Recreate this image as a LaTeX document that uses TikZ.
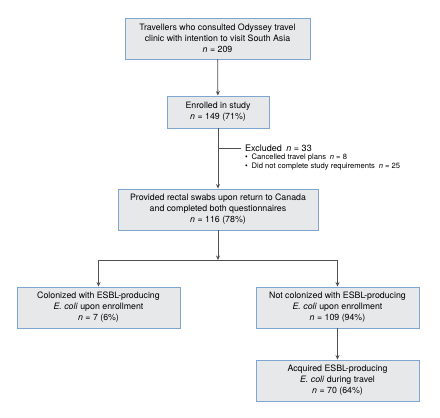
\documentclass[tikz,border=0pt]{standalone}
\usepackage{fontspec}
\setmainfont{TeX Gyre Heros}
\usepackage{tikz}
\usetikzlibrary{arrows.meta,positioning}

\definecolor{boxfill}{HTML}{E7E8EA}
\definecolor{boxline}{HTML}{7EA6CF}
\definecolor{arrline}{HTML}{505050}

\begin{document}
\begin{tikzpicture}[x=1pt, y=-1pt,
  box/.style = {draw=boxline, fill=boxfill, line width=0.9pt, align=center,
    font=\fontsize{8.8}{11}\selectfont, inner sep=2pt, minimum height=41pt},
  arr/.style = {draw=arrline, line width=0.8pt, -{Stealth[length=4.5pt,width=4pt]}}]
\useasboundingbox (0,0) rectangle (440,418);

\node[box, minimum width=185pt] (trav) at (217.5,38.5) {Travellers who consulted Odyssey travel\\clinic with intention to visit South Asia\\\textit{n} = 209};
\node[box, minimum width=102pt, minimum height=32pt] (enrol) at (218,112) {Enrolled in study\\\textit{n} = 149 (71\%)};
\node[box, minimum width=200pt] (swab) at (218,209.5) {Provided rectal swabs upon return to Canada\\and completed both questionnaires\\\textit{n} = 116 (78\%)};
\node[box, minimum width=163pt] (col) at (98.5,307.5) {Colonized with ESBL-producing\\\textit{E. coli} upon enrollment\\\textit{n} = 7 (6\%)};
\node[box, minimum width=163pt] (notcol) at (337.5,307.5) {Not colonized with ESBL-producing\\\textit{E. coli} upon enrollment\\\textit{n} = 109 (94\%)};
\node[box, minimum width=163pt] (acq) at (337.5,380.5) {Acquired ESBL-producing\\\textit{E. coli} during travel\\\textit{n} = 70 (64\%)};

% excluded branch
\coordinate (ex) at (218,148);
\node[anchor=west, inner sep=0pt, font=\fontsize{9}{10}\selectfont] (excl) at (245,148) {Excluded\enspace\textit{n} = 33};
\node[anchor=north west, inner sep=0pt, align=left, font=\fontsize{7.6}{9}\selectfont] (why) at (245,153.5)
  {\textbullet\enspace Cancelled travel plans\enspace\textit{n} = 8\\
   \textbullet\enspace Did not complete study requirements\enspace\textit{n} = 25};

\coordinate (split) at (218,260);

\draw[arr] (trav) -- (enrol);
\draw[arr] (enrol) -- (swab);
\draw[draw=arrline, line width=0.8pt] (ex) -- ++(23,0);
\draw[arr] (swab) -- (split);
\draw[arr] (split) -| (col.north);
\draw[arr] (split) -| (notcol.north);
\draw[arr] (notcol) -- (acq);
\end{tikzpicture}
\end{document}
